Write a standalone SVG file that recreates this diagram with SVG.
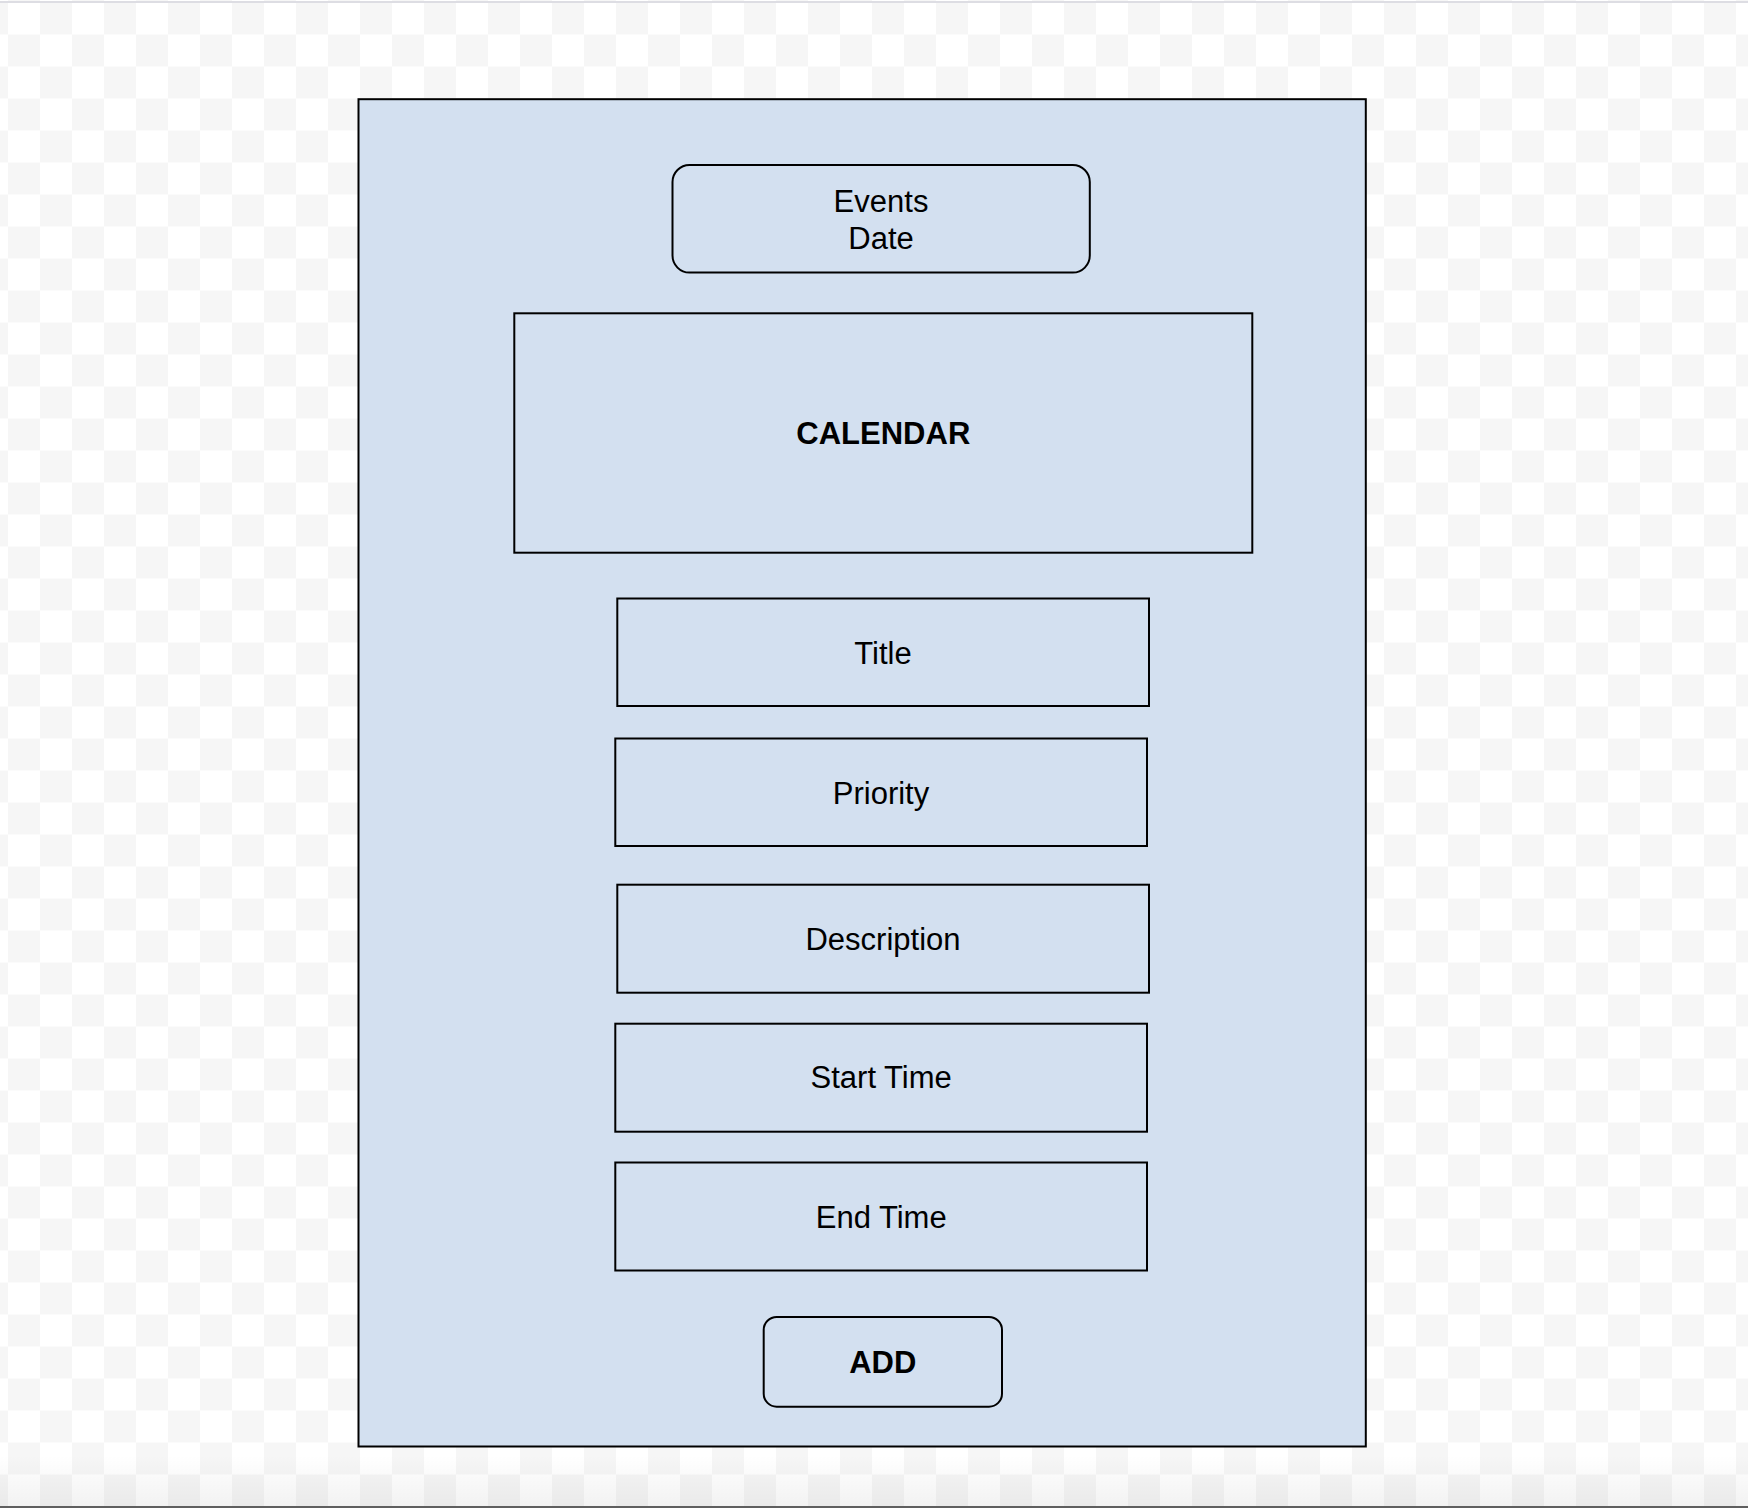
<svg xmlns="http://www.w3.org/2000/svg" width="1748" height="1508" viewBox="0 0 1748 1508">
  <defs>
    <pattern id="checker" patternUnits="userSpaceOnUse" x="8" y="2.5" width="64" height="64">
      <rect x="0" y="0" width="64" height="64" fill="#ffffff"/>
      <rect x="32" y="0" width="32" height="32" fill="#f6f6f6"/>
      <rect x="0" y="32" width="32" height="32" fill="#f6f6f6"/>
    </pattern>
    <linearGradient id="fade" x1="0" y1="0" x2="0" y2="1">
      <stop offset="0" stop-color="#000000" stop-opacity="0"/>
      <stop offset="1" stop-color="#000000" stop-opacity="0.05"/>
    </linearGradient>
  </defs>
  <style>
    .box { fill: #d3e0f0; stroke: #000000; stroke-width: 2; }
    .lbl { font-family: "Liberation Sans", Arial, sans-serif; font-size: 31px; fill: #000000; text-anchor: middle; }
    .bold { font-weight: bold; }
  </style>

  <!-- background -->
  <rect x="0" y="0" width="1748" height="1508" fill="url(#checker)"/>
  <rect x="0" y="1455" width="1748" height="51" fill="url(#fade)"/>
  <line x1="0" y1="2" x2="1748" y2="2" stroke="#dddde3" stroke-width="2"/>
  <line x1="0" y1="1507" x2="1748" y2="1507" stroke="#5f5f5f" stroke-width="2"/>

  <g id="frame">
    <rect class="box" x="358.5" y="99.2" width="1007.3" height="1347.3"/>
  </g>

  <g id="events-date">
    <rect class="box" x="672.5" y="165" width="417.3" height="107.6" rx="17" ry="17"/>
    <text class="lbl" x="881" y="211.7">Events</text>
    <text class="lbl" x="881" y="249">Date</text>
  </g>

  <g id="calendar">
    <rect class="box" x="514.3" y="313.3" width="738" height="239.4"/>
    <text class="lbl bold" x="883.3" y="444">CALENDAR</text>
  </g>

  <g id="title">
    <rect class="box" x="617.3" y="598.5" width="531.7" height="107.5"/>
    <text class="lbl" x="883" y="664">Title</text>
  </g>

  <g id="priority">
    <rect class="box" x="615.3" y="738.5" width="531.7" height="107.5"/>
    <text class="lbl" x="881" y="804">Priority</text>
  </g>

  <g id="description">
    <rect class="box" x="617.3" y="884.7" width="531.7" height="108"/>
    <text class="lbl" x="883" y="950">Description</text>
  </g>

  <g id="start-time">
    <rect class="box" x="615.3" y="1023.7" width="531.7" height="108"/>
    <text class="lbl" x="881.2" y="1088.3">Start Time</text>
  </g>

  <g id="end-time">
    <rect class="box" x="615.3" y="1162.5" width="531.7" height="108"/>
    <text class="lbl" x="881.2" y="1228.3">End Time</text>
  </g>

  <g id="add">
    <rect class="box" x="763.7" y="1317" width="238.3" height="89.7" rx="13" ry="13"/>
    <text class="lbl bold" x="882.8" y="1372.7">ADD</text>
  </g>

  <g id="connectors"></g>
</svg>
